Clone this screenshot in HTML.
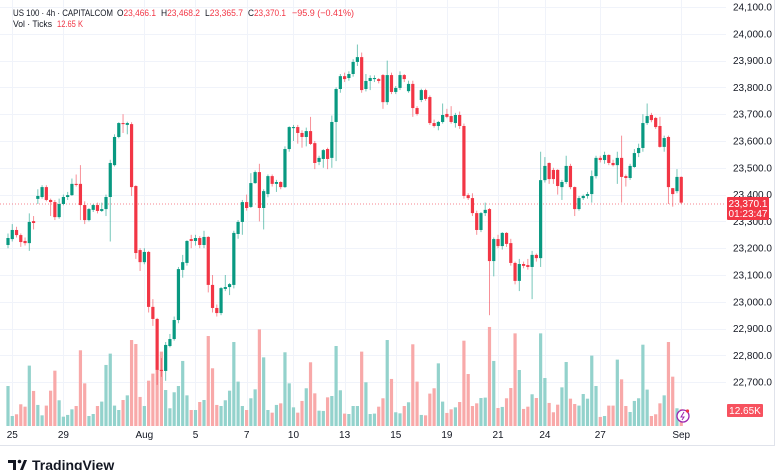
<!DOCTYPE html>
<html><head><meta charset="utf-8"><style>
html,body{margin:0;padding:0;background:#fff;width:780px;height:470px;overflow:hidden;font-family:"Liberation Sans",sans-serif}
svg text{font-family:"Liberation Sans",sans-serif}
</style></head><body>
<svg id="chart" width="780" height="470" viewBox="0 0 780 470" xmlns="http://www.w3.org/2000/svg">
<rect x="0" y="0" width="780" height="470" fill="#fff"/>
<g id="grid"></g>
<g id="vol"></g>
<line x1="0" y1="204" x2="726" y2="204" stroke="#f23645" stroke-width="1" stroke-dasharray="1,2" opacity="0.6"/>
<g id="candles"></g>
<g id="yaxis"></g>
<g id="xaxis"></g>
<line x1="0" y1="445.5" x2="775" y2="445.5" stroke="#e0e3eb"/>
<line x1="774.5" y1="0" x2="774.5" y2="446" stroke="#e0e3eb"/>
<g>
<rect x="727" y="197" width="42" height="23" rx="1" fill="#f23645"/>
<text x="748" y="207" font-size="10" fill="#fff" text-anchor="middle">23,370.1</text>
<text x="748" y="217" font-size="10" fill="#fff" text-anchor="middle">01:23:47</text>
</g>
<g>
<rect x="727" y="404" width="36" height="13" rx="1" fill="#f7525f"/>
<text x="745" y="414" font-size="10" fill="#fff" text-anchor="middle">12.65K</text>
</g>
<g>
<circle cx="683" cy="416" r="6" fill="#fff" stroke="#9c27b0" stroke-width="1.3"/>
<path d="M684 412 L681 417 L684 417 L682 420" stroke="#9c27b0" fill="none" stroke-width="1"/>
<circle cx="687.5" cy="411" r="1.6" fill="#f23645"/>
</g>
<g font-size="9.5" fill="#131722">
<text x="13" y="16" textLength="100" lengthAdjust="spacingAndGlyphs">US 100 · 4h · CAPITALCOM</text>
<text x="117" y="16" textLength="39" lengthAdjust="spacingAndGlyphs">O<tspan fill="#f23645">23,466.1</tspan></text>
<text x="161" y="16" textLength="39" lengthAdjust="spacingAndGlyphs">H<tspan fill="#f23645">23,468.2</tspan></text>
<text x="205" y="16" textLength="38" lengthAdjust="spacingAndGlyphs">L<tspan fill="#f23645">23,365.7</tspan></text>
<text x="248" y="16" textLength="38" lengthAdjust="spacingAndGlyphs">C<tspan fill="#f23645">23,370.1</tspan></text>
<text x="292" y="16" fill="#f23645" textLength="62" lengthAdjust="spacingAndGlyphs">−95.9 (−0.41%)</text>
<text x="13" y="27" textLength="39" lengthAdjust="spacingAndGlyphs">Vol · Ticks</text>
<text x="57" y="27" fill="#f23645" textLength="26" lengthAdjust="spacingAndGlyphs">12.65 K</text>
</g>
<g>
<path d="M8 460 h8 v10 h-3 v-7 h-5z" fill="#131722"/>
<circle cx="19.5" cy="461.5" r="1.8" fill="#131722"/>
<path d="M20 470 l4 -10 h3 l-4 10z" fill="#131722"/>
<text x="32" y="470" font-size="14" font-weight="bold" fill="#131722">TradingView</text>
</g>
</svg>
<script>
const opens=[23212,23234,23268,23249,23227,23219,23301,23384,23391,23428,23380,23372,23316,23365,23391,23398,23440,23440,23361,23305,23343,23361,23339,23346,23391,23510,23615,23667,23660,23663,23432,23193,23148,23186,22981,22936,22746,22742,22835,22861,22932,23119,23145,23234,23227,23238,23212,23242,23063,22977,22958,23048,23055,23063,23253,23298,23372,23354,23443,23484,23350,23402,23469,23440,23447,23428,23570,23648,23652,23630,23615,23637,23592,23522,23533,23570,23537,23671,23794,23842,23835,23850,23895,23913,23794,23824,23831,23831,23846,23745,23846,23783,23798,23846,23786,23813,23723,23753,23790,23764,23667,23656,23671,23701,23693,23667,23697,23656,23398,23387,23331,23268,23331,23346,23152,23234,23208,23257,23219,23145,23078,23141,23137,23130,23175,23163,23454,23518,23492,23492,23428,23447,23507,23428,23346,23387,23395,23402,23469,23537,23529,23548,23518,23510,23537,23469,23462,23503,23555,23574,23667,23697,23686,23656,23578,23615,23424,23413,23466];
const closes=[23238,23268,23249,23223,23219,23298,23294,23395,23428,23380,23372,23316,23365,23391,23398,23440,23436,23361,23305,23346,23361,23339,23346,23391,23518,23615,23667,23663,23667,23428,23182,23148,23186,22981,22936,22746,22742,22839,22861,22932,23122,23148,23227,23227,23238,23212,23242,23063,22977,22958,23051,23055,23066,23257,23298,23372,23350,23443,23484,23350,23413,23469,23440,23447,23428,23570,23652,23652,23630,23615,23637,23589,23518,23537,23566,23533,23671,23794,23842,23831,23850,23895,23913,23790,23824,23835,23835,23824,23745,23846,23783,23798,23846,23831,23813,23723,23701,23790,23757,23667,23656,23671,23697,23690,23671,23697,23656,23395,23387,23331,23268,23331,23343,23152,23234,23208,23257,23216,23145,23078,23141,23134,23130,23175,23163,23454,23507,23458,23458,23432,23447,23507,23428,23346,23387,23395,23402,23469,23537,23529,23548,23518,23510,23537,23466,23462,23507,23555,23574,23667,23693,23678,23652,23578,23611,23428,23402,23466,23370];
const highs=[23255,23290,23280,23255,23240,23330,23320,23420,23435,23435,23385,23380,23385,23400,23410,23460,23475,23510,23375,23350,23365,23370,23370,23400,23530,23625,23670,23700,23672,23670,23435,23200,23200,23190,23010,22940,22790,22850,22880,22945,23130,23175,23230,23250,23250,23245,23265,23245,23100,22990,23055,23100,23070,23265,23305,23380,23400,23480,23490,23515,23420,23475,23475,23455,23450,23580,23655,23660,23660,23640,23650,23690,23600,23545,23570,23575,23695,23800,23850,23855,23860,23905,23960,23930,23850,23845,23845,23835,23850,23900,23855,23805,23860,23850,23825,23825,23730,23795,23795,23770,23680,23675,23740,23720,23730,23705,23710,23665,23405,23405,23340,23335,23370,23350,23240,23250,23260,23260,23235,23150,23160,23150,23160,23190,23180,23560,23540,23520,23500,23495,23455,23545,23515,23430,23395,23400,23410,23490,23545,23545,23560,23550,23530,23560,23620,23475,23515,23570,23590,23700,23740,23705,23690,23690,23620,23620,23425,23495,23468];
const lows=[23200,23225,23240,23205,23210,23190,23270,23365,23385,23375,23320,23305,23310,23360,23380,23395,23430,23305,23290,23300,23335,23330,23335,23320,23225,23505,23610,23630,23625,23395,23160,23115,23140,22960,22910,22690,22720,22705,22830,22855,22920,23090,23135,23200,23210,23200,23200,23035,22960,22945,22950,23040,23025,23050,23235,23250,23340,23350,23440,23300,23270,23390,23430,23410,23420,23425,23560,23600,23590,23575,23580,23585,23495,23510,23500,23495,23500,23525,23780,23820,23825,23840,23880,23780,23785,23790,23820,23815,23720,23735,23775,23775,23790,23820,23780,23690,23695,23745,23750,23660,23650,23640,23665,23685,23665,23650,23645,23385,23380,23320,23250,23260,23320,22950,23095,23200,23195,23205,23135,23065,23040,23125,23120,23010,23150,23130,23445,23440,23440,23400,23380,23440,23420,23320,23340,23380,23385,23370,23460,23520,23515,23510,23505,23440,23370,23430,23455,23500,23540,23560,23660,23670,23645,23575,23560,23365,23355,23405,23365];
const volumes=[30,7.5,8.8,16.3,14.5,45.3,26.3,15.8,8,15.3,26.5,41.5,19.3,7,8.3,12.5,15,56.8,32,7.5,9,15,18.3,45.8,54.3,15.3,12,19.5,23,64.5,61.5,21.8,15,34,39.3,42.5,55.8,27,13.3,25.3,30,48.8,23,12,12,18,19.5,67.5,43.3,15.8,15,19.3,26.5,63,33.3,15,12,20.8,27.5,72.5,51.5,12,10,15.8,17,55.3,32,14,10,18.8,28.3,47.8,24.5,11.5,11.3,21.5,22.5,60,26.8,9.3,9,15,15,55.8,32.8,9,9.3,14.5,20.8,64.5,35.3,10.3,9.5,15,17.8,61.3,33.3,8.3,8,24.3,28.3,47,18.3,9.8,12.5,14,18,64,39,15,17,21,21.3,74.3,48.8,13.5,14.3,20.8,28.5,69.5,42,12.8,14.5,23.8,21,69.5,36,17.3,10.3,16,29,48,20.5,16.5,15.3,24,20.5,52.8,30,6.8,7.5,15.3,15.3,49.8,35,15,10.5,18.8,20.8,61,27.3,7.5,8.8,17,23,63,37,13.3,12.65];
const priceTicks=[24100,24000,23900,23800,23700,23600,23500,23400,23300,23200,23100,23000,22900,22800,22700];
const dateLabels=["25","29","Aug","5","7","10","13","15","19","21","24","27","Sep"];
const dateIndex=[2,14,33,45,57,68,80,92,104,116,127,140,159];

const NS="http://www.w3.org/2000/svg";
function yP(p){return 7+(24100-p)*0.268;}
function xI(i){return 8+i*4.261;}
function yV(v){return 426-v*1.333;}
function mk(tag,attrs,parent){const e=document.createElementNS(NS,tag);for(const k in attrs)e.setAttribute(k,attrs[k]);parent.appendChild(e);return e;}
const grid=document.getElementById('grid'),yax=document.getElementById('yaxis'),xax=document.getElementById('xaxis');
priceTicks.forEach(p=>{
  const l=mk('line',{x1:0,x2:726,y1:Math.round(yP(p))+0.5,y2:Math.round(yP(p))+0.5,stroke:'#f0f3fa'},grid);
  
  
  const t=mk('text',{x:733,y:yP(p)+3.5,'font-size':10,fill:'#131722'},yax);
  t.textContent=p.toLocaleString('en-US')+'.0';
  
  
});
dateLabels.forEach((d,k)=>{
  const x=xI(dateIndex[k]-1);
  const l=mk('line',{x1:Math.round(x)+0.5,x2:Math.round(x)+0.5,y1:0,y2:426,stroke:'#f0f3fa'},grid);
  
  
  const t=mk('text',{x:x,y:438,'font-size':10,fill:'#131722','text-anchor':'middle'},xax);
  t.textContent=d;
  
  
});
const vg=document.getElementById('vol'),cg=document.getElementById('candles');
volumes.forEach((v,i)=>{
  const up=closes[i]>=opens[i];
  const r=mk('rect',{x:xI(i)-1.6,y:yV(v),width:3.2,height:426-yV(v),fill:up?'#93d2cc':'#f8a9a9'},vg);
  
  
});
opens.forEach((o,i)=>{
  const c=closes[i],up=c>=o,col=up?'#089981':'#f23645',x=xI(i);
  const g=mk('g',{},cg);
  
  
  mk('line',{x1:x,x2:x,y1:yP(highs[i]),y2:yP(lows[i]),stroke:col,'stroke-width':1,opacity:0.55},g);
  const t=Math.min(yP(o),yP(c)),h=Math.max(1,Math.abs(yP(o)-yP(c)));
  mk('rect',{x:x-1.6,y:t,width:3.2,height:h,fill:col},g);
});
</script>
</body></html>
